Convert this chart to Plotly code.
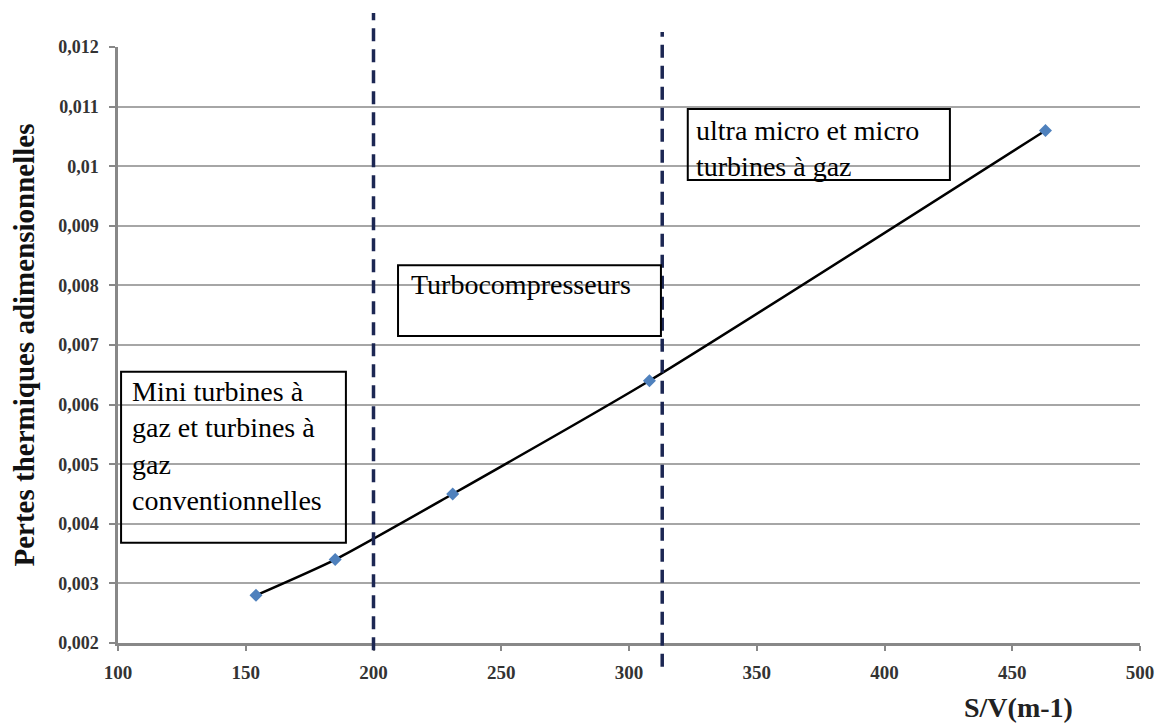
import plotly.graph_objects as go

# --- données ---
sv = [154, 185, 231, 308, 463]
pertes = [0.0028, 0.0034, 0.0045, 0.0064, 0.0106]

y_ticks = [0.002, 0.003, 0.004, 0.005, 0.006, 0.007, 0.008, 0.009, 0.010, 0.011, 0.012]
y_labels = ["0,002", "0,003", "0,004", "0,005", "0,006", "0,007", "0,008", "0,009", "0,01", "0,011", "0,012"]
x_ticks = [100, 150, 200, 250, 300, 350, 400, 450, 500]

limites = [200, 313]  # frontières entre familles de machines

zones = ["Mini turbines à<br>gaz et turbines à<br>gaz<br>conventionnelles",
         "Turbocompresseurs",
         "ultra micro et micro<br>turbines à gaz"]

SERIF = "Liberation Serif"

# la page ajoute ~8 px de marge autour du graphique
W, H = 1156, 719
L, R, T, B = 110, 24, 39, 84
pw, ph = W - L - R, H - T - B

fig = go.Figure()

fig.add_trace(go.Scatter(
    x=sv, y=pertes,
    mode="lines+markers",
    line=dict(color="black", width=2.5, shape="spline", smoothing=0.6),
    marker=dict(symbol="diamond", color="#4f81bd", size=10),
    showlegend=False,
))

# lignes verticales en tirets
for xv, (y0, y1) in zip(limites, [(-0.012, 1.057), (-0.04, 1.025)]):
    fig.add_shape(type="line", xref="x", yref="paper", x0=xv, x1=xv, y0=y0, y1=y1,
                  line=dict(color="#1c2753", width=3.5, dash="13px,8px"))

# cadres de texte (transparents)
cadres = [
    (101.2, 189.2, 0.00368, 0.00655),
    (209.6, 312.5, 0.00715, 0.00834),
    (323.0, 425.6, 0.00977, 0.01096),
]
for x0, x1, y0, y1 in cadres:
    fig.add_shape(type="rect", xref="x", yref="y", x0=x0, x1=x1, y0=y0, y1=y1,
                  line=dict(color="black", width=2), fillcolor="rgba(0,0,0,0)")

positions_texte = [(104.5, 0.00652), (214.0, 0.00831), (325.3, 0.01090)]
for txt, (xt, yt) in zip(zones, positions_texte):
    fig.add_annotation(x=xt, y=yt, xref="x", yref="y", text=txt, showarrow=False,
                       xanchor="left", yanchor="top", align="left",
                       font=dict(family=SERIF, size=28, color="black"))

# titre axe X (placé en pixels -> papier)
fig.add_annotation(x=(1018 - 118) / pw, y=(643 - 707) / ph, xref="paper", yref="paper",
                   xanchor="center", yanchor="middle",
                   text="<b>S/V(m-1)</b>", showarrow=False,
                   font=dict(family=SERIF, size=28, color="#222"))

fig.update_layout(
    width=W, height=H,
    font=dict(family=SERIF),
    paper_bgcolor="white", plot_bgcolor="white",
    margin=dict(l=L, r=R, t=T, b=B, autoexpand=False),
    xaxis=dict(
        range=[100, 500], tickvals=x_ticks, showgrid=False, zeroline=False, automargin=False,
        showline=True, linecolor="#888", linewidth=2.5,
        ticks="outside", ticklen=5, tickcolor="#888", tickwidth=1.5,
        tickfont=dict(family=SERIF, size=19, color="#333", weight="bold"),
        ticklabelstandoff=5,
    ),
    yaxis=dict(
        range=[0.002, 0.012], tickvals=y_ticks, ticktext=y_labels, automargin=False,
        showgrid=True, gridcolor="#a6a6a6", gridwidth=1.5, zeroline=False,
        showline=True, linecolor="#888", linewidth=2.5,
        ticks="outside", ticklen=6, tickcolor="#888", tickwidth=1.5,
        tickfont=dict(family=SERIF, size=18, color="#333", weight="bold"),
        ticklabelstandoff=7,
        title=dict(text="<b>Pertes thermiques adimensionnelles</b>",
                   font=dict(family=SERIF, size=29, color="#111"), standoff=18),
    ),
)

fig.write_html("out.html")
